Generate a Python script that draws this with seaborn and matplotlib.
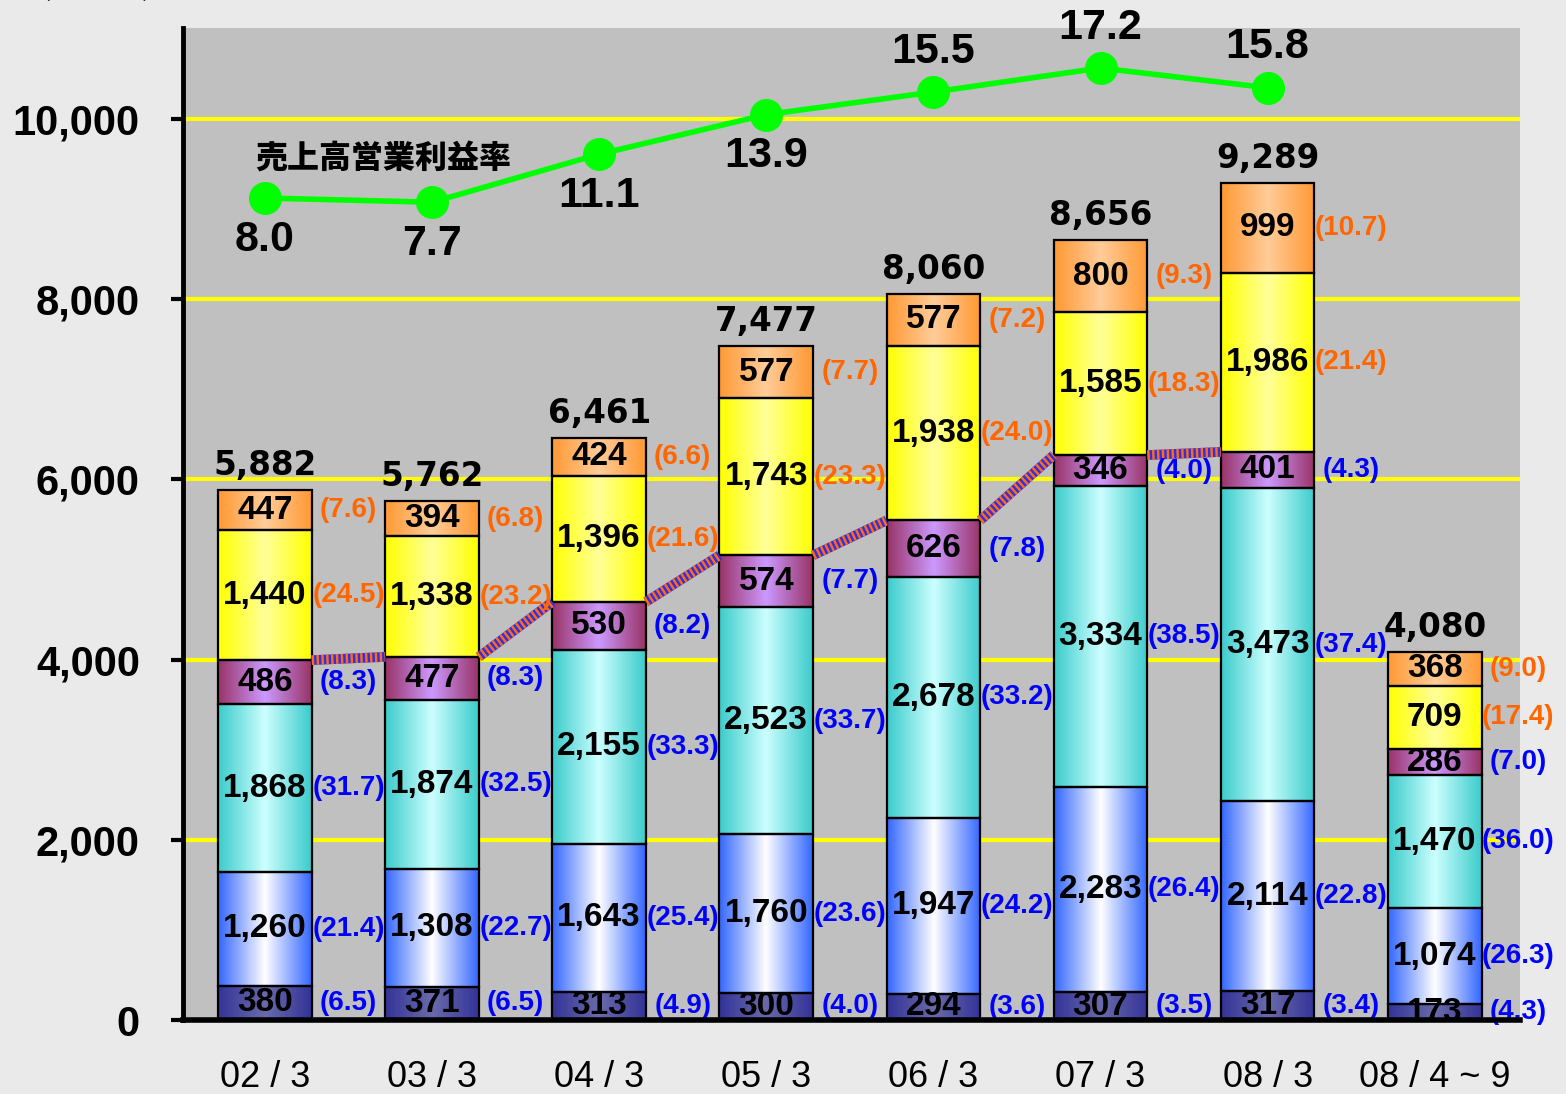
import numpy as np
import matplotlib
matplotlib.use('Agg')
import matplotlib.pyplot as plt
import seaborn as sns
from matplotlib.colors import LinearSegmentedColormap
from matplotlib.ticker import FuncFormatter

# ---------------------------------------------------------------------------
# data
# ---------------------------------------------------------------------------
categories = ['02 / 3', '03 / 3', '04 / 3', '05 / 3', '06 / 3', '07 / 3', '08 / 3', '08 / 4 ~ 9']

# stacked segments, bottom to top
seg1 = [380, 371, 313, 300, 294, 307, 317, 173]
seg2 = [1260, 1308, 1643, 1760, 1947, 2283, 2114, 1074]
seg3 = [1868, 1874, 2155, 2523, 2678, 3334, 3473, 1470]
seg4 = [486, 477, 530, 574, 626, 346, 401, 286]
seg5 = [1440, 1338, 1396, 1743, 1938, 1585, 1986, 709]
seg6 = [447, 394, 424, 577, 577, 800, 999, 368]

# share of total (%) for each segment
pct1 = [6.5, 6.5, 4.9, 4.0, 3.6, 3.5, 3.4, 4.3]
pct2 = [21.4, 22.7, 25.4, 23.6, 24.2, 26.4, 22.8, 26.3]
pct3 = [31.7, 32.5, 33.3, 33.7, 33.2, 38.5, 37.4, 36.0]
pct4 = [8.3, 8.3, 8.2, 7.7, 7.8, 4.0, 4.3, 7.0]
pct5 = [24.5, 23.2, 21.6, 23.3, 24.0, 18.3, 21.4, 17.4]
pct6 = [7.6, 6.8, 6.6, 7.7, 7.2, 9.3, 10.7, 9.0]

totals = [5882, 5762, 6461, 7477, 8060, 8656, 9289, 4080]

# operating margin (%), no value for the half year
margin = [8.0, 7.7, 11.1, 13.9, 15.5, 17.2, 15.8]
margin_label = '売上高営業利益率'
unit_label = '(百万円)'

yticks = [0, 2000, 4000, 6000, 8000, 10000]

# ---------------------------------------------------------------------------
# styling
# ---------------------------------------------------------------------------
segments = [seg1, seg2, seg3, seg4, seg5, seg6]
pcts = [pct1, pct2, pct3, pct4, pct5, pct6]
# (edge colour, centre colour) for the horizontal gradients
seg_colors = [('#333399', '#6A6AAA'),
              ('#3366FF', '#FFFFFF'),
              ('#3CCBCB', '#CCFFFF'),
              ('#993366', '#CC99FF'),
              ('#FFFF00', '#FFFF99'),
              ('#FF9933', '#FFCC99')]
pct_colors = ['#0000FF', '#0000FF', '#0000FF', '#0000FF', '#FF6600', '#FF6600']

sns.set_style('white')
plt.rcParams['font.family'] = ['Liberation Sans', 'Noto Sans CJK JP', 'DejaVu Sans']
plt.rcParams['text.color'] = 'black'
plt.rcParams['xtick.color'] = 'black'
plt.rcParams['ytick.color'] = 'black'
plt.rcParams['axes.edgecolor'] = 'black'

fig = plt.figure(figsize=(15.66, 10.94), dpi=100, facecolor='#EAEAEA')
ax = fig.add_axes([183 / 1566, 74 / 1094, 1337 / 1566, 992 / 1094])
ax.set_facecolor('#C0C0C0')

bar_w = 0.56
bottom = np.zeros(len(categories))
seg_patches = []
seg_bottoms = []
for vals, (edge, mid) in zip(segments, seg_colors):
    n0 = len(ax.patches)
    sns.barplot(x=categories, y=vals, bottom=bottom.copy(), width=bar_w,
                color=edge, saturation=1, edgecolor='black', linewidth=1.6,
                errorbar=None, ax=ax)
    seg_patches.append(ax.patches[n0:])
    seg_bottoms.append(bottom.copy())
    bottom = bottom + np.array(vals)

# gradient fill clipped to each bar rectangle
grad = np.linspace(0, 1, 256)[None, :]
for patches, (edge, mid) in zip(seg_patches, seg_colors):
    cmap = LinearSegmentedColormap.from_list('g', [edge, mid, edge])
    for p in patches:
        x0, y0 = p.get_x(), p.get_y()
        im = ax.imshow(grad, cmap=cmap, aspect='auto', interpolation='bicubic',
                       extent=[x0, x0 + p.get_width(), y0, y0 + p.get_height()],
                       zorder=1.1)
        im.set_clip_path(p)
        p.set_facecolor('none')
        p.set_zorder(1.2)

# value and share labels
for vals, pc, bot, col in zip(segments, pcts, seg_bottoms, pct_colors):
    for i, (v, s, b) in enumerate(zip(vals, pc, bot)):
        yc = b + v / 2
        ax.text(i, yc, f'{v:,}', ha='center', va='center', fontsize=24,
                fontweight='bold', color='black', zorder=3)
        ax.text(i + 0.5, yc, f'({s:.1f})', ha='center', va='center', fontsize=20,
                fontweight='bold', color=col, zorder=3)

# totals on top
for i, t in enumerate(totals):
    ax.annotate(f'{t:,}', (i, bottom[i]), xytext=(0, 11), textcoords='offset points',
                ha='center', va='baseline', fontsize=23.5, fontweight='bold',
                family='DejaVu Sans', color='black', zorder=3)

# connectors between the tops of the 4th segment
top4 = seg_bottoms[4]
for i in range(len(margin) - 1):
    xs = [i + bar_w / 2, i + 1 - bar_w / 2]
    ys = [top4[i], top4[i + 1]]
    ax.plot(xs, ys, color='#3030E0', lw=7, solid_capstyle='butt', zorder=1.3)
    ax.plot(xs, ys, color='#FF6A1A', lw=7, ls=(0, (0.25, 0.25)), zorder=1.31)

# axes cosmetics
ax.set_axisbelow(True)
ax.yaxis.grid(True, color='#FFFF00', lw=3)
ax.xaxis.grid(False)
for side in ['top', 'right']:
    ax.spines[side].set_visible(False)
ax.spines['left'].set_linewidth(3.5)
ax.spines['bottom'].set_linewidth(4)
ax.spines['left'].set_zorder(4)
ax.spines['bottom'].set_zorder(4)
ax.set_yticks(yticks)
ax.yaxis.set_major_formatter(FuncFormatter(lambda v, _: f'{v:,.0f}'))
ax.tick_params(axis='y', direction='out', length=9, width=3, pad=22, labelsize=30)
ax.tick_params(axis='x', length=0, pad=29, labelsize=26)
for lbl in ax.get_yticklabels():
    lbl.set_fontweight('bold')
ax.set_xlabel('')
ax.set_ylabel('')

ax.text(0.71, 9570, margin_label, ha='center', va='center', fontsize=23,
        fontweight='black', family=['Noto Sans CJK JP', 'DejaVu Sans'], zorder=3)

# operating margin line on a hidden secondary axis
ax2 = ax.twinx()
sns.lineplot(x=np.arange(len(margin)), y=margin, ax=ax2, color='#00FF00', lw=4,
             marker='o', markersize=23, markeredgecolor='#00FF00')
for i, m in enumerate(margin):
    off = -30 if i < 4 else 29
    ax2.annotate(f'{m:.1f}', (i, m), xytext=(0, off), textcoords='offset points',
                 ha='center', va='center', fontsize=31, fontweight='bold', color='black')
ax2.set_ylim(-50.17, 20.03)
ax2.set_axis_off()

ax.set_xlim(-0.49, 7.51)
ax.set_ylim(0, 11010)

fig.text(40 / 1566, 1 + 5 / 1094, unit_label, ha='left', va='baseline', fontsize=22,
         family=['Noto Sans CJK JP', 'DejaVu Sans'])

fig.savefig('out.png', dpi=100, facecolor=fig.get_facecolor())
